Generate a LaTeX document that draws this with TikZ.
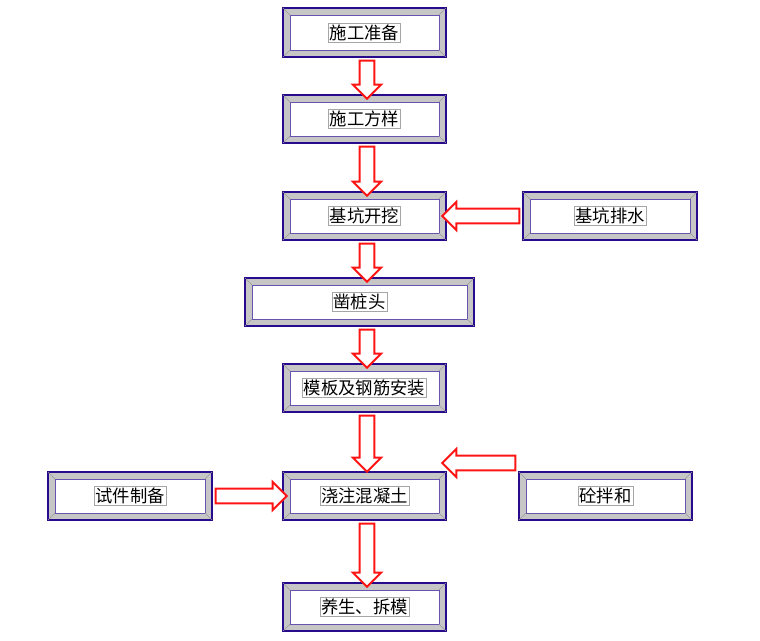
\documentclass[tikz,border=0pt]{standalone}
\usepackage{fontspec}
\setmainfont{Noto Sans CJK SC}
\usetikzlibrary{shapes.arrows,calc}
\definecolor{framec}{RGB}{40,10,140}
\definecolor{arrowc}{RGB}{255,20,20}
\tikzset{
  outer/.style={draw=framec,line width=2.2pt,fill=gray!45},
  inner/.style={draw=framec!70,line width=0.6pt,fill=white},
  lbl/.style={draw=gray!70,line width=0.4pt,inner sep=1pt,font=\fontsize{13}{15}\selectfont},
  harrow/.style={single arrow,draw=arrowc,line width=1.5pt,fill=white,inner sep=4.8pt,
    single arrow head extend=5pt,minimum width=21pt,shape border uses incircle=false},
}
% box given by pixel corners
\newcommand\flowbox[6]{%
  \draw[outer] (#2,#3) rectangle (#4,#5);
  \draw[inner] (#2+7,#3+7) rectangle (#4-7,#5-7);
  \draw[gray!80,line width=0.4pt] (#2,#3)--(#2+7,#3+7) (#4,#3)--(#4-7,#3+7)
    (#2,#5)--(#2+7,#5-7) (#4,#5)--(#4-7,#5-7);
  \node[lbl] (#1) at ({(#2+#4)/2},{(#3+#5)/2}) {#6};
  \coordinate (#1-n) at (367,#3);
  \coordinate (#1-s) at (367,#5);
  \coordinate (#1-w) at (#2,{(#3+#5)/2});
  \coordinate (#1-e) at (#4,{(#3+#5)/2});
}
\newcommand\hollowarrow[2]{%
  \path let \p1=($(#2)-(#1)$), \n1={veclen(\x1,\y1)}, \n2={atan2(\y1,\x1)} in
    node[harrow,minimum height=\n1,rotate=\n2] at ($(#1)!.5!(#2)$) {};
}
\begin{document}
\begin{tikzpicture}[x=0.75pt,y=-0.75pt]
\useasboundingbox (0,0) rectangle (760,641);

% boxes
\flowbox{prep}{283}{8}{446}{57}{施工准备}
\flowbox{survey}{283}{95}{446}{143}{施工方样}
\flowbox{dig}{283}{192}{446}{240}{基坑开挖}
\flowbox{drain}{523}{192}{697}{240}{基坑排水}
\flowbox{chisel}{245}{278}{474}{326}{凿桩头}
\flowbox{form}{283}{364}{446}{412}{模板及钢筋安装}
\flowbox{sample}{48}{472}{212}{520}{试件制备}
\flowbox{pour}{283}{472}{446}{520}{浇注混凝土}
\flowbox{mix}{519}{472}{692}{520}{砼拌和}
\flowbox{cure}{283}{583}{446}{631}{养生、拆模}

% arrows
\hollowarrow{prep-s}{survey-n}
\hollowarrow{survey-s}{dig-n}
\hollowarrow{drain-w}{dig-e}
\hollowarrow{dig-s}{chisel-n}
\hollowarrow{chisel-s}{form-n}
\coordinate (pourtop) at (367,468);
\hollowarrow{form-s}{pourtop}
\hollowarrow{sample-e}{pour-w}
\coordinate (mixa) at (519,463);
\coordinate (mixb) at (446,463);
\hollowarrow{mixa}{mixb}
\hollowarrow{pour-s}{cure-n}
\end{tikzpicture}
\end{document}
